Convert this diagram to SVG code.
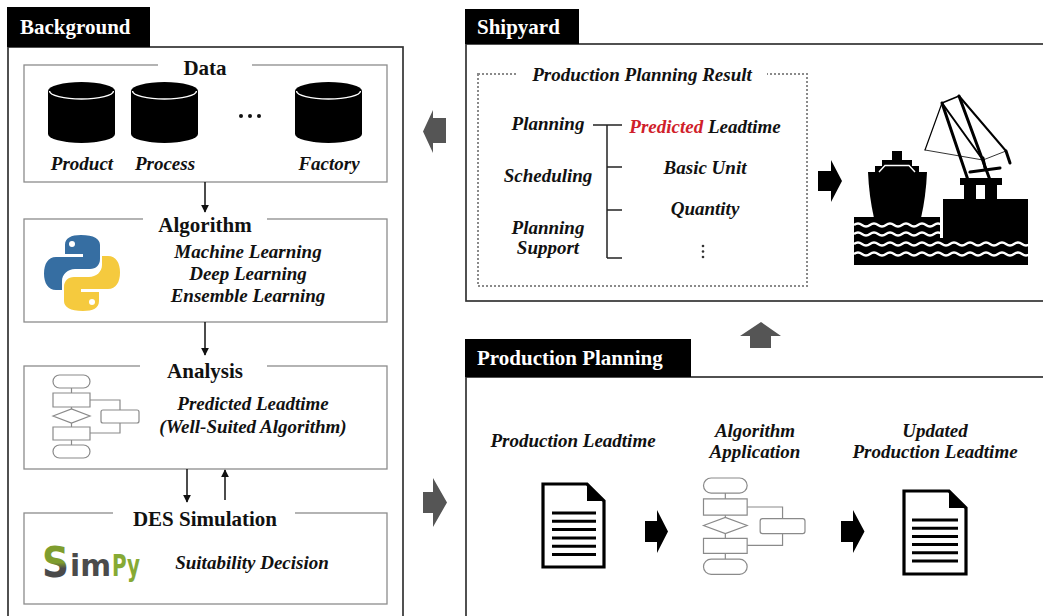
<svg xmlns="http://www.w3.org/2000/svg" width="1043" height="616" viewBox="0 0 1043 616">
  <style>
    .lbl { fill: #000; }
    .lbltxt { font-family: "Liberation Serif", serif; font-weight: bold; font-size: 21px; fill: #fff; }
    .panel { fill: none; stroke: #333; stroke-width: 1.7; }
    .sub { fill: #fff; stroke: #8c8c8c; stroke-width: 1.3; }
    .title { font-family: "Liberation Serif", serif; font-weight: bold; font-size: 21px; fill: #111; text-anchor: middle; }
    .it { font-family: "Liberation Serif", serif; font-weight: bold; font-style: italic; font-size: 19px; fill: #111; text-anchor: middle; }
    .gap { fill: #fff; stroke: none; }
    .fc { fill: #fff; stroke: #8a8a8a; stroke-width: 1.2; vector-effect: non-scaling-stroke; }
    .fcl { fill: none; stroke: #8a8a8a; stroke-width: 1.2; vector-effect: non-scaling-stroke; }
    .conn { stroke: #111; stroke-width: 1.5; fill: none; }
    .garrow { fill: #555; }
    .barrow { fill: #000; }
    .docline { stroke: #000; stroke-width: 3; }
    .wave { fill: none; stroke: #fff; stroke-width: 2.4; }
    .crane { stroke: #000; fill: none; stroke-linecap: round; }
  </style>
  <defs>
    <marker id="ah" viewBox="0 0 10 10" refX="9" refY="5" markerWidth="8" markerHeight="8" markerUnits="userSpaceOnUse" orient="auto">
      <path d="M0,0 L10,5 L0,10 Z" fill="#111"/>
    </marker>
    <linearGradient id="sgrad" x1="0" y1="0" x2="0" y2="1">
      <stop offset="0.5" stop-color="#7f9d2e"/>
      <stop offset="0.62" stop-color="#4a4a4a"/>
    </linearGradient>
    <!-- small flowchart glyph, local units -->
    <g id="flow">
      <line class="fcl" x1="18.5" y1="13" x2="18.5" y2="18"/>
      <line class="fcl" x1="18.5" y1="32" x2="18.5" y2="34"/>
      <line class="fcl" x1="18.5" y1="48" x2="18.5" y2="52"/>
      <line class="fcl" x1="18.5" y1="65" x2="18.5" y2="70"/>
      <polyline class="fcl" points="37,25 67,25 67,35"/>
      <polyline class="fcl" points="67,48 67,58 37,58"/>
      <rect class="fc" x="0" y="0" width="37" height="13" rx="6.5"/>
      <rect class="fc" x="0" y="18" width="37" height="14"/>
      <polygon class="fc" points="0,41 18.5,34 37,41 18.5,48"/>
      <rect class="fc" x="0" y="52" width="37" height="13"/>
      <rect class="fc" x="0" y="70" width="37" height="13" rx="6.5"/>
      <rect class="fc" x="48" y="35" width="38" height="13" rx="2"/>
    </g>
    <!-- database cylinder -->
    <g id="cyl">
      <path d="M0,91 A33.5,9 0 0 1 67,91 L67,134 A33.5,9 0 0 1 0,134 Z" fill="#000"/>
      <path d="M1.5,91 A32,8 0 0 0 65.5,91" fill="none" stroke="#fff" stroke-width="1.4"/>
    </g>
  </defs>

  <rect x="0" y="0" width="1043" height="616" fill="#fff"/>

  <!-- Background panel -->
  <g id="background">
    <rect class="panel" x="8" y="47" width="395" height="580"/>
    <rect class="lbl" x="7" y="7" width="143" height="40"/>
    <text class="lbltxt" x="20" y="34">Background</text>
  </g>

  <g id="data">
    <rect class="sub" x="24" y="65" width="363" height="117"/>
    <rect class="gap" x="158" y="60" width="94" height="10"/>
    <text class="title" x="205" y="75">Data</text>
    <use href="#cyl" x="48" y="0"/>
    <use href="#cyl" x="131" y="0"/>
    <use href="#cyl" x="295" y="0"/>
    <circle cx="241" cy="116" r="2" fill="#111"/>
    <circle cx="250" cy="116" r="2" fill="#111"/>
    <circle cx="259" cy="116" r="2" fill="#111"/>
    <text class="it" x="82" y="170">Product</text>
    <text class="it" x="165" y="170">Process</text>
    <text class="it" x="329" y="170">Factory</text>
  </g>

  <g id="algorithm">
    <rect class="sub" x="24" y="219" width="363" height="103"/>
    <rect class="gap" x="143" y="214" width="124" height="10"/>
    <text class="title" x="205" y="232">Algorithm</text>
    <g transform="translate(43,234)">
      <path d="M38,1 C28,1 22,4 22,11 L22,20 L40,20 L40,23 L13,23 C5,23 1,30 1,39.5 C1,49 5,56 13,56 L19,56 L19,47 C19,40 25,35 32,35 L47,35 C53,35 57,31 57,25 L57,11 C57,5 51,1 38,1 Z" fill="#366ea2"/>
      <circle cx="29" cy="10" r="3" fill="#fff"/>
      <g transform="rotate(180 39 39)">
        <path d="M38,1 C28,1 22,4 22,11 L22,20 L40,20 L40,23 L13,23 C5,23 1,30 1,39.5 C1,49 5,56 13,56 L19,56 L19,47 C19,40 25,35 32,35 L47,35 C53,35 57,31 57,25 L57,11 C57,5 51,1 38,1 Z" fill="#f5ca3e"/>
        <circle cx="29" cy="10" r="3" fill="#fff"/>
      </g>
    </g>
    <text class="it" x="248" y="258">Machine Learning</text>
    <text class="it" x="248" y="280">Deep Learning</text>
    <text class="it" x="248" y="302">Ensemble Learning</text>
  </g>

  <g id="analysis">
    <rect class="sub" x="24" y="366" width="363" height="103"/>
    <rect class="gap" x="140" y="361" width="127" height="10"/>
    <text class="title" x="205" y="378">Analysis</text>
    <use href="#flow" transform="translate(53,375)"/>
    <text class="it" x="253" y="410">Predicted Leadtime</text>
    <text class="it" x="253" y="433">(Well-Suited Algorithm)</text>
  </g>

  <g id="des-simulation">
    <rect class="sub" x="24" y="513" width="363" height="91"/>
    <rect class="gap" x="113" y="508" width="182" height="10"/>
    <text class="title" x="205" y="526">DES Simulation</text>
    <text x="42" y="577" font-family="DejaVu Sans, sans-serif" font-weight="bold" font-size="42" fill="url(#sgrad)" textLength="27" lengthAdjust="spacingAndGlyphs">S</text>
    <text x="70" y="576" font-family="DejaVu Sans, sans-serif" font-weight="bold" font-size="30" fill="#4b4b4b" textLength="41" lengthAdjust="spacingAndGlyphs">im</text>
    <text x="112" y="576" font-family="DejaVu Sans, sans-serif" font-weight="bold" font-size="30" fill="#86aa34" textLength="28" lengthAdjust="spacingAndGlyphs">Py</text>
    <text class="it" x="252" y="569">Suitability Decision</text>
  </g>

  <!-- Shipyard panel -->
  <g id="shipyard">
    <rect class="panel" x="466" y="44" width="600" height="257"/>
    <rect class="lbl" x="465" y="9" width="114" height="35"/>
    <text class="lbltxt" x="477" y="34">Shipyard</text>
    <rect x="478" y="74" width="329" height="212" fill="none" stroke="#8a8a8a" stroke-width="2" stroke-dasharray="2 2"/>
    <rect class="gap" x="517" y="68" width="250" height="12"/>
    <text class="it" x="642" y="81">Production Planning Result</text>
    <text class="it" x="548" y="130">Planning</text>
    <text class="it" x="548" y="182">Scheduling</text>
    <text class="it" x="548" y="234">Planning</text>
    <text class="it" x="548" y="254">Support</text>
    <g stroke="#222" stroke-width="1.5" fill="none">
      <line x1="607" y1="125" x2="607" y2="258"/>
      <line x1="593" y1="125" x2="622" y2="125"/>
      <line x1="607" y1="167" x2="622" y2="167"/>
      <line x1="607" y1="210" x2="622" y2="210"/>
      <line x1="607" y1="258" x2="622" y2="258"/>
    </g>
    <text class="it" x="705" y="133"><tspan fill="#d0202a">Predicted</tspan> Leadtime</text>
    <text class="it" x="705" y="174">Basic Unit</text>
    <text class="it" x="705" y="215">Quantity</text>
    <g fill="#333">
      <circle cx="703" cy="246" r="1.3"/>
      <circle cx="703" cy="251.5" r="1.3"/>
      <circle cx="703" cy="257" r="1.3"/>
    </g>
    <polygon class="barrow" points="818,171 831,171 831,160 842,181 831,202 831,191 818,191"/>
    <!-- harbour pictogram -->
    <g id="harbour">
      <rect x="892" y="151" width="10" height="10" fill="#000"/>
      <rect x="882" y="160" width="30" height="7" fill="#000"/>
      <rect x="875" y="166" width="44" height="7" fill="#000"/>
      <path d="M868,172 L927,172 Q926,196 921,218 L874,218 Q869,196 868,172 Z" fill="#000"/>
      <path d="M879,172 L885,165.5 L909,165.5 L915,172" fill="none" stroke="#fff" stroke-width="1.4"/>
      <rect x="854" y="217" width="86" height="26" fill="#000"/>
      <rect x="943" y="199" width="85" height="44" fill="#000"/>
      <rect x="854" y="238" width="174" height="27" fill="#000"/>
      <path class="wave" d="M854,225 q4,-3 8,0 t8,0 t8,0 t8,0 t8,0 t8,0 t8,0 t8,0 t8,0 t8,0 t8,0"/>
      <path class="wave" d="M854,234 q4,-3 8,0 t8,0 t8,0 t8,0 t8,0 t8,0 t8,0 t8,0 t8,0 t8,0 t8,0"/>
      <path class="wave" d="M854,244 q4,-3 8,0 t8,0 t8,0 t8,0 t8,0 t8,0 t8,0 t8,0 t8,0 t8,0 t8,0 t8,0 t8,0 t8,0 t8,0 t8,0 t8,0 t8,0 t8,0 t8,0 t8,0 t8,0"/>
      <path class="wave" d="M854,254 q4,-3 8,0 t8,0 t8,0 t8,0 t8,0 t8,0 t8,0 t8,0 t8,0 t8,0 t8,0 t8,0 t8,0 t8,0 t8,0 t8,0 t8,0 t8,0 t8,0 t8,0 t8,0 t8,0"/>
      <rect x="964" y="182" width="12" height="18" fill="#000"/>
      <rect x="985" y="182" width="12" height="18" fill="#000"/>
      <rect x="960" y="178" width="42" height="7" fill="#000"/>
      <g class="crane">
        <line x1="942" y1="103" x2="968" y2="180" stroke-width="3"/>
        <line x1="959" y1="96" x2="990" y2="180" stroke-width="3"/>
        <line x1="942" y1="103" x2="983" y2="160" stroke-width="2"/>
        <line x1="959" y1="96" x2="1006" y2="151" stroke-width="2"/>
        <line x1="942" y1="103" x2="925" y2="150" stroke-width="1.2"/>
        <line x1="942" y1="103" x2="959" y2="96" stroke-width="1.5"/>
        <line x1="925" y1="150" x2="983" y2="160" stroke-width="0.8"/>
        <line x1="983" y1="160" x2="1006" y2="151" stroke-width="0.8"/>
        <line x1="1006" y1="151" x2="1010" y2="163" stroke-width="3"/>
        <line x1="983" y1="158" x2="985" y2="168" stroke-width="3"/>
        <line x1="970" y1="172" x2="1000" y2="168" stroke-width="3"/>
      </g>
    </g>
  </g>

  <!-- Production Planning panel -->
  <g id="production-planning">
    <rect class="panel" x="466" y="377" width="600" height="250"/>
    <rect class="lbl" x="465" y="339" width="226" height="38"/>
    <text class="lbltxt" x="477" y="365">Production Planning</text>
    <text class="it" x="573" y="447">Production Leadtime</text>
    <text class="it" x="755" y="437">Algorithm</text>
    <text class="it" x="755" y="458">Application</text>
    <text class="it" x="935" y="437">Updated</text>
    <text class="it" x="935" y="458">Production Leadtime</text>
    <g id="doc-input">
      <path d="M543,484 L587,484 L604,501 L604,567 L543,567 Z" fill="#fff" stroke="#000" stroke-width="3.2"/>
      <path d="M587,484 L604,501 L587,501 Z" fill="#000"/>
      <line class="docline" x1="552" y1="513" x2="596" y2="513"/>
      <line class="docline" x1="552" y1="521.3" x2="596" y2="521.3"/>
      <line class="docline" x1="552" y1="529.6" x2="596" y2="529.6"/>
      <line class="docline" x1="552" y1="537.9" x2="596" y2="537.9"/>
      <line class="docline" x1="552" y1="546.2" x2="596" y2="546.2"/>
      <line class="docline" x1="552" y1="554.5" x2="596" y2="554.5"/>
    </g>
    <polygon class="barrow" points="645,521 657,521 657,510 668,531.5 657,553 657,542 645,542"/>
    <use href="#flow" transform="translate(703.5,478) scale(1.18,1.16)"/>
    <polygon class="barrow" points="841,521 853,521 853,510 864.5,531.5 853,553 853,542 841,542"/>
    <g id="doc-output">
      <path d="M904,491 L949,491 L966,508 L966,574 L904,574 Z" fill="#fff" stroke="#000" stroke-width="3.2"/>
      <path d="M949,491 L966,508 L949,508 Z" fill="#000"/>
      <line class="docline" x1="912" y1="520" x2="958" y2="520"/>
      <line class="docline" x1="912" y1="528.2" x2="958" y2="528.2"/>
      <line class="docline" x1="912" y1="536.4" x2="958" y2="536.4"/>
      <line class="docline" x1="912" y1="544.6" x2="958" y2="544.6"/>
      <line class="docline" x1="912" y1="552.8" x2="958" y2="552.8"/>
      <line class="docline" x1="912" y1="561" x2="958" y2="561"/>
    </g>
  </g>

  <!-- connectors -->
  <g id="connectors">
    <line class="conn" x1="205" y1="182" x2="205" y2="212" marker-end="url(#ah)"/>
    <line class="conn" x1="205" y1="322" x2="205" y2="355" marker-end="url(#ah)"/>
    <line class="conn" x1="187" y1="469" x2="187" y2="502" marker-end="url(#ah)"/>
    <line class="conn" x1="225" y1="500" x2="225" y2="470" marker-end="url(#ah)"/>
    <polygon class="garrow" points="446,118 433,118 433,110 423,131.5 433,153 433,143 446,143"/>
    <polygon class="garrow" points="423,492 433,492 433,478 447,502.5 433,527 433,513 423,513"/>
    <polygon class="garrow" points="750,348 750,336 740,336 761,322 781,336 771,336 771,348"/>
  </g>
</svg>
